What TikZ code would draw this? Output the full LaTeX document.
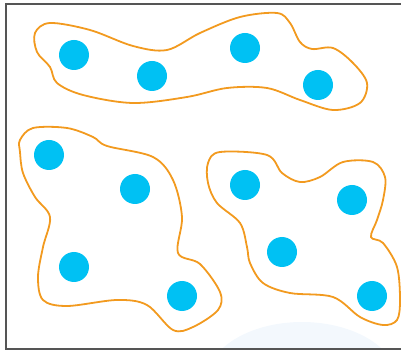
\documentclass[tikz,border=0pt]{standalone}
\usetikzlibrary{positioning}

\definecolor{blobline}{HTML}{F29A1F}
\definecolor{dotfill}{HTML}{00C1F3}
\definecolor{framegray}{HTML}{555555}
\definecolor{haze}{HTML}{F3F8FD}

\begin{document}
\begin{tikzpicture}[x=1pt, y=-1pt,
    dot/.style={circle, fill=dotfill, minimum size=30pt, inner sep=0pt},
    blob/.style={draw=blobline, line width=1.8pt, smooth cycle, tension=0.55}]
    \useasboundingbox (0,0) rectangle (401,352);

    % Background haze and frame
    \begin{scope}
        \clip (6,4) rectangle (401,349);
        \fill[haze] (302,382) ellipse [x radius=96pt, y radius=60pt];
    \end{scope}
    \draw[framegray, line width=2pt] (6,4) rectangle (412,349);

    % Dots
    \node[dot] (a1) at (74,55) {};
    \node[dot] (a2) at (152,76) {};
    \node[dot] (a3) at (245,48) {};
    \node[dot] (a4) at (318,85) {};

    \node[dot] (b1) at (49,155) {};
    \node[dot] (b2) at (135,189) {};
    \node[dot] (b3) at (74,267) {};
    \node[dot] (b4) at (182,296) {};

    \node[dot] (c1) at (245,185) {};
    \node[dot] (c2) at (352,200) {};
    \node[dot] (c3) at (282,252) {};
    \node[dot] (c4) at (372,296) {};

    % Clusters
    \draw[blob] plot coordinates {(35,33) (50,23) (90,30) (133,46) (167,50)
        (200,33) (240,17) (277,13) (290,23) (300,42) (312,49) (333,48)
        (353,63) (367,83) (360,103) (333,110) (300,100) (267,88) (227,88)
        (187,97) (133,103) (83,95) (57,83) (50,67) (37,52)};
    \draw[blob] plot coordinates {(20,140) (33,128) (67,128) (93,137) (107,146)
        (153,157) (173,180) (182,217) (178,253) (200,264) (220,292) (218,310)
        (193,327) (173,330) (147,305) (117,300) (67,306) (43,300) (38,277)
        (43,247) (50,217) (35,197) (23,173) (20,152)};
    \draw[blob] plot coordinates {(208,163) (220,152) (267,155) (282,173)
        (300,182) (320,177) (343,162) (373,162) (385,177) (383,200) (377,220)
        (371,237) (383,243) (397,267) (400,300) (397,320) (383,325) (360,317)
        (333,297) (290,293) (263,283) (250,263) (247,247) (240,223) (217,203)
        (208,183)};
\end{tikzpicture}
\end{document}
